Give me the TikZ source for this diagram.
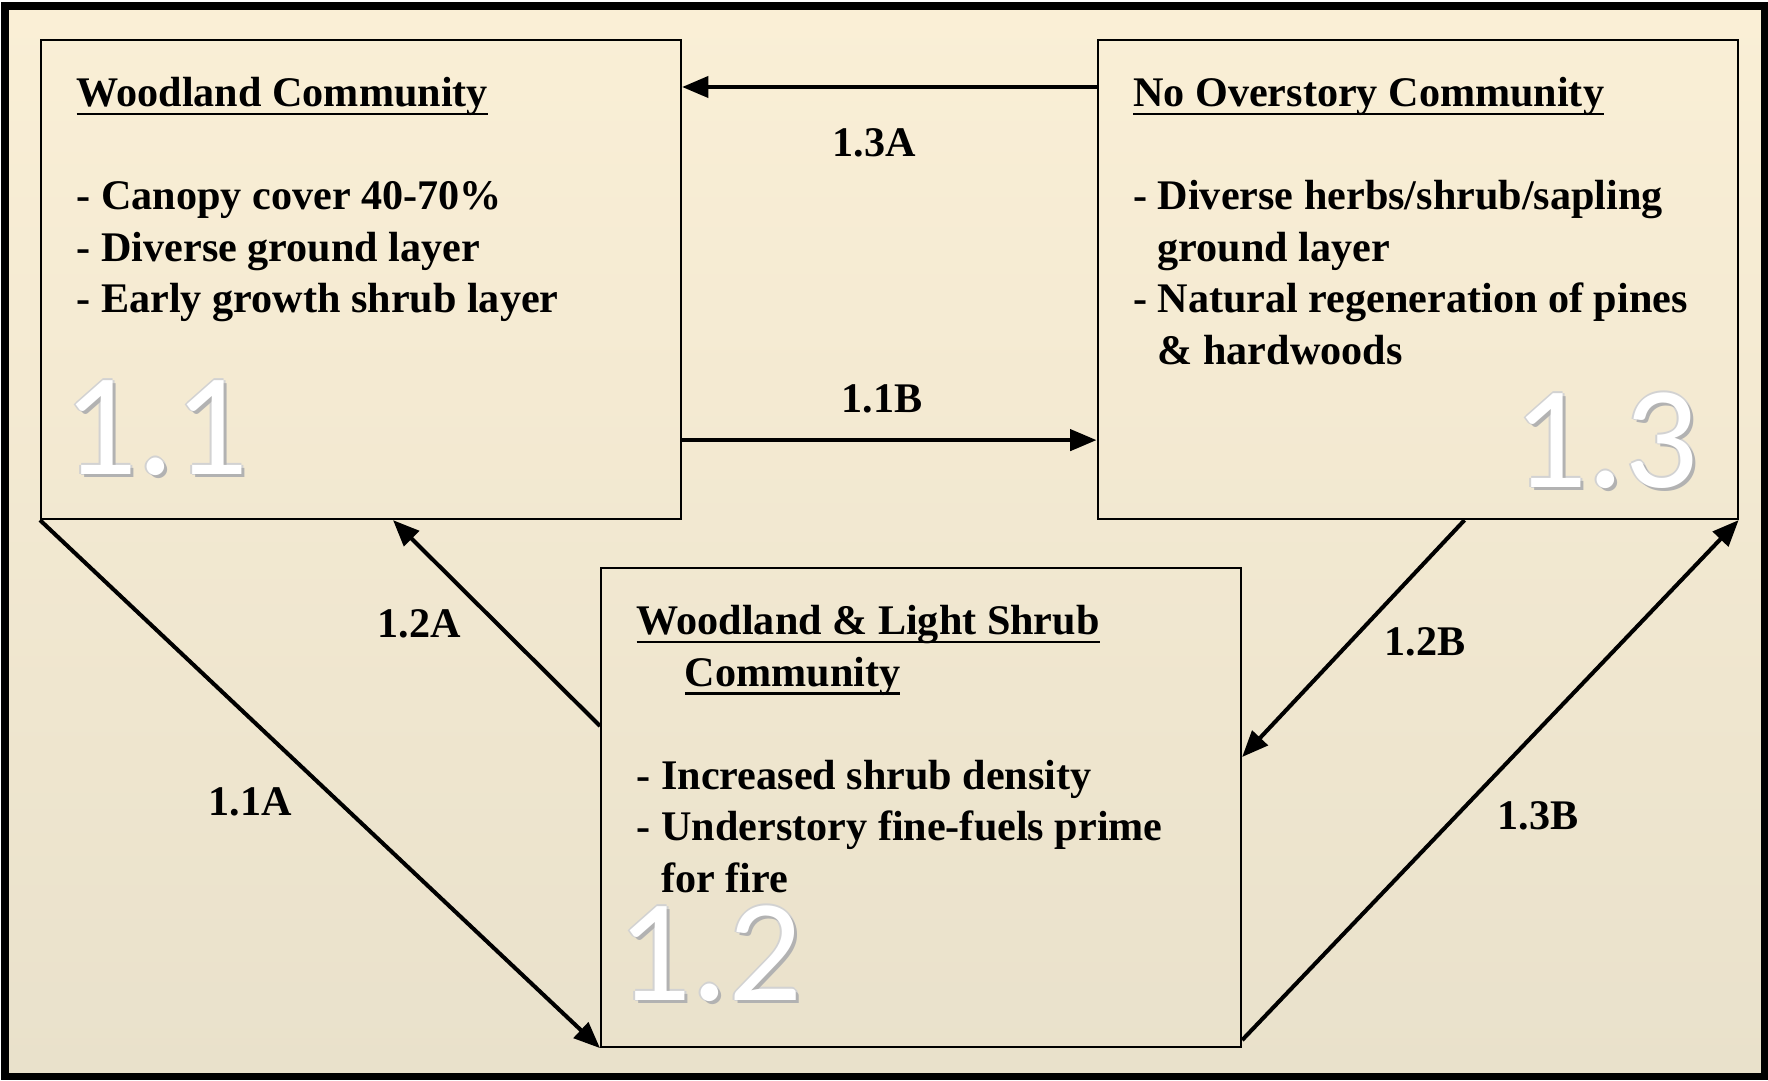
\documentclass[tikz,border=0pt]{standalone}
\usepackage{fontspec}
\setmainfont{Liberation Serif}
\newfontfamily\numfont{Carlito}
\usetikzlibrary{arrows.meta,positioning}
\definecolor{bgtop}{RGB}{250,239,214}
\definecolor{bgbot}{RGB}{233,225,203}
\newsavebox\undrbox
\newcommand\undr[1]{\sbox\undrbox{#1}\rlap{\rule[-2.4pt]{\wd\undrbox}{0.8pt}}\usebox\undrbox}

\begin{document}
\begin{tikzpicture}
		\tikzstyle{community} = [rectangle, draw=black, line width=0.6pt, minimum width=6.4cm, 
		minimum height=4.79cm, anchor=north west, inner sep=0pt]
		\tikzstyle{boxtext} = [anchor=north west, align=left, inner sep=0pt, 
		font=\bfseries\fontsize{12}{14.65}\selectfont]
		\tikzstyle{pathway} = [inner sep=0pt, font=\bfseries\fontsize{12}{14.65}\selectfont]
		\tikzstyle{statenum} = [anchor=base west, inner sep=0pt, text height=26pt, text depth=0pt, 
		font=\numfont\fontsize{41.5}{41.5}\selectfont]
		\tikzstyle{arrow} = [line width=1.15pt, -{Triangle[length=7.5pt,width=6pt]}]
		\useasboundingbox (0,0) rectangle (17.68,-10.80);
		% background and frame
		\shade [top color=bgtop, bottom color=bgbot] (0.05,-0.06) rectangle (17.64,-10.76);
		\draw [line width=2pt] (0.05,-0.06) rectangle (17.64,-10.76);
		% community boxes
		\node (wood) [community] at (0.40,-0.39) {};
		\node (noov) [community] at (10.965,-0.39) {};
		\node (shrub) [community] at (6.00,-5.67) {};
		\node (woodtxt) [boxtext, below right=0.38cm and 0.36cm of wood.north west] 
		{\undr{Woodland Community}\\[14.65pt]
		 - Canopy cover 40-70\%\\
		 - Diverse ground layer\\
		 - Early growth shrub layer};
		\node (noovtxt) [boxtext, below right=0.38cm and 0.36cm of noov.north west] 
		{\undr{No Overstory Community}\\[14.65pt]
		 - Diverse herbs/shrub/sapling\\
		 \hphantom{- }ground layer\\
		 - Natural regeneration of pines\\
		 \hphantom{- }\& hardwoods};
		\node (shrubtxt) [boxtext, below right=0.38cm and 0.36cm of shrub.north west] 
		{\undr{Woodland \& Light Shrub}\\
		 \hspace*{13.7pt}\undr{Community}\\[14.65pt]
		 - Increased shrub density\\
		 - Understory fine-fuels prime\\
		 \hphantom{- }for fire};
		% state numbers
		\foreach \nm/\x/\y/\t in {num11/0.63/-4.74/1.1, num12/6.17/-10.00/1.2, num13/15.13/-4.87/1.3} {
			\foreach \dx/\dy in {0.5/0, -0.5/0, 0/0.5, 0/-0.5}
				\node [statenum, text=gray!35] at ([xshift=\dx pt,yshift=\dy pt]\x,\y) {\t};
			\node [statenum, text=gray!60] at ([xshift=0.8pt,yshift=-0.9pt]\x,\y) {\t};
			\node (\nm) [statenum, text=white] at (\x,\y) {\t};
		}
		% transitions
		\draw [arrow] ([yshift=-0.48cm]noov.north west) -- ([yshift=-0.48cm]wood.north east);
		\draw [arrow] ([yshift=0.80cm]wood.south east) -- ([yshift=0.80cm]noov.south west);
		\draw [arrow] (wood.south west) -- (shrub.south west);
		\draw [arrow] ([yshift=-1.59cm]shrub.north west) -- ([xshift=3.53cm]wood.south west);
		\draw [arrow] ([xshift=3.68cm]noov.south west) -- ([yshift=-1.90cm]shrub.north east);
		\draw [arrow] ([yshift=0.08cm]shrub.south east) -- (noov.south east);
		\node (l13a) [pathway] at (8.74,-1.43) {1.3A};
		\node (l11b) [pathway] at (8.82,-3.99) {1.1B};
		\node (l12a) [pathway] at (4.19,-6.24) {1.2A};
		\node (l11a) [pathway] at (2.50,-8.015) {1.1A};
		\node (l12b) [pathway] at (14.25,-6.42) {1.2B};
		\node (l13b) [pathway] at (15.38,-8.16) {1.3B};
\end{tikzpicture}
\end{document}
